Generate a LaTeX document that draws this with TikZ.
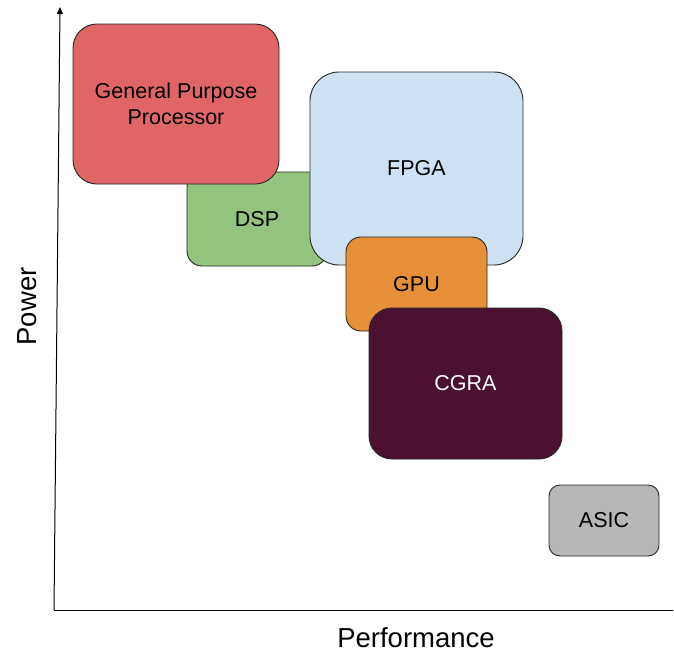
\documentclass[tikz,border=0pt]{standalone}
\usepackage{fontspec}
\setmainfont{Liberation Sans}
\usetikzlibrary{arrows.meta}

\definecolor{gppred}{HTML}{E06666}
\definecolor{dspgreen}{HTML}{93C47D}
\definecolor{fpgablue}{HTML}{CFE2F3}
\definecolor{gpuorange}{HTML}{E69138}
\definecolor{cgraplum}{HTML}{4C1130}
\definecolor{asicgrey}{HTML}{B7B7B7}

\begin{document}
\begin{tikzpicture}[x = 1pt, y = -1pt,
		chip/.style = {draw = black!85, line width = 0.9pt, align = center, inner sep = 0pt,
			font = \fontsize{21.5}{26}\selectfont},
		axislabel/.style = {inner sep = 0pt, anchor = base, font = \fontsize{27.5}{33}\selectfont}]
	\useasboundingbox (0,0) rectangle (674,651);

	\begin{scope}[line width = 1pt]
		\coordinate (origin) at (54,610);
		\coordinate (ytip) at (60,7);
		\coordinate (xend) at (673,610);
		\draw (origin) -- (xend);
		\draw [-{Triangle[length = 7pt, width = 6pt]}] (origin) -- (ytip);
		\node [axislabel, rotate = 90] (power) at (36.5,306.5) {Power};
		\node [axislabel] (performance) at (416,647) {Performance};
	\end{scope}

	\begin{scope}
		\node [chip, fill = dspgreen, minimum width = 140pt, minimum height = 94pt, rounded corners = 15pt] (dsp) at (257,219) {DSP};
		\node [chip, fill = gppred, minimum width = 206pt, minimum height = 160pt, rounded corners = 24pt] (gpp) at (176,104) {General Purpose\\Processor};
		\node [chip, fill = fpgablue, minimum width = 213pt, minimum height = 193pt, rounded corners = 29pt] (fpga) at (416.5,168.5) {FPGA};
		\node [chip, fill = gpuorange, minimum width = 141pt, minimum height = 94pt, rounded corners = 15pt] (gpu) at (416.5,284) {GPU};
		\node [chip, fill = cgraplum, text = white, minimum width = 193pt, minimum height = 151pt, rounded corners = 23pt] (cgra) at (465.5,383.5) {CGRA};
		\node [chip, fill = asicgrey, minimum width = 110pt, minimum height = 71pt, rounded corners = 11pt] (asic) at (604,520.5) {ASIC};
	\end{scope}
\end{tikzpicture}
\end{document}
